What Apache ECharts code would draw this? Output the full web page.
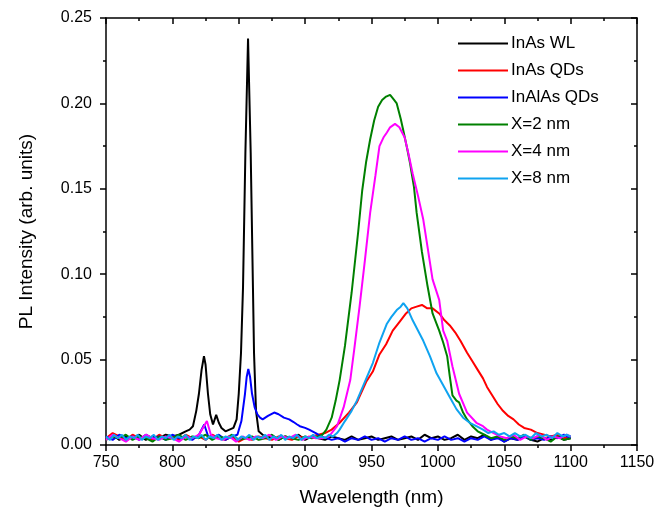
<!DOCTYPE html>
<html>
<head>
<meta charset="utf-8">
<script src="https://cdn.jsdelivr.net/npm/echarts@6/dist/echarts.min.js"></script>
<style>
html,body{margin:0;padding:0;background:#fff;}
#chart{width:670px;height:513px;}
</style>
</head>
<body>
<div id="chart"></div>
<script>
// Values: [wavelength (nm), PL intensity in units of 1e-3 arb. units]
const seriesNames = ['InAs WL','InAs QDs','InAlAs QDs','X=2 nm','X=4 nm','X=8 nm'];
const xTicks = [750,800,850,900,950,1000,1050,1100,1150];
const yTicks = [0.00,0.05,0.10,0.15,0.20,0.25];

const inAsWL = [[750,4],[755,6],[760,3],[765,5],[770,4],[775,6],[780,3],[785,5],[790,4],[795,6],[800,5],[805,6],[810,8],[813,9],[815.5,11],[818,20],[820,30],[822,44],[823.8,52],[825,47],[826.8,30],[828.5,18],[830.6,12],[833,17.6],[835,13],[837,10],[840,8],[843,9],[846,10],[848.4,15],[850,30],[851.7,54],[853.2,92],[855,171],[857,238],[859,171],[860.7,92],[861.5,54],[863,20],[865,8],[868,6],[872,4],[876,5],[880,3],[885,5],[890,4],[895,6],[900,3],[905,5],[910,4],[915,3],[920,5],[925,4],[930,3],[935,5],[940,3],[945,4],[950,5],[955,3],[960,4],[965,5],[970,3],[975,4],[980,5],[985,3],[990,6],[995,4],[1000,5],[1005,3],[1010,4],[1015,6],[1020,3],[1025,5],[1030,4],[1035,6],[1040,3],[1045,5],[1050,2],[1055,4],[1060,3],[1065,5],[1070,3],[1075,2],[1080,4],[1085,3],[1090,5],[1095,3],[1100,4]];

const inAsQDs = [[750,4],[755,7],[760,5],[765,3],[770,6],[775,4],[780,5],[785,3],[790,6],[795,4],[800,5],[805,3],[810,6],[815,4],[820,5],[825,3],[830,6],[835,4],[840,3],[845,5],[850,2],[855,4],[860,3],[865,5],[870,4],[875,3],[880,5],[885,4],[890,3],[895,5],[900,4],[905,5],[910,6],[915,7],[920,9],[926,13],[933,19],[939,25],[946,37],[951,43],[956,53],[961,59],[966,67],[971,72],[976,77],[980,80],[984,81],[988,82],[992,80],[996,80],[1001,77],[1005,73],[1009,70],[1013,66],[1017,61],[1022,54],[1026,49],[1030,44],[1034,39],[1037,34],[1041,29],[1045,24],[1049,20],[1053,17],[1057,15],[1061,12],[1065,10],[1070,9],[1075,7],[1080,6],[1085,5],[1090,6],[1095,4],[1100,5]];

const inAlAsQDs = [[750,5],[755,3],[760,6],[765,4],[770,5],[775,3],[780,6],[785,4],[790,5],[795,3],[800,6],[805,4],[810,5],[815,3],[820,6],[824,12],[827,5],[830,4],[835,6],[840,3],[845,5],[849,6],[852,14],[854.7,30],[856,40],[857.2,44.5],[858.5,40],[860,30],[862,22],[864,18],[866,16],[868,15],[872,17],[876.7,19],[880,18],[884,16],[888,15],[891,13.6],[894,12],[896,11],[900,10],[903,9],[908,7],[912,5],[916,4],[920,3],[925,4],[930,2],[935,4],[940,3],[945,5],[950,3],[955,4],[960,2],[965,4],[970,3],[975,5],[980,3],[985,4],[990,2],[995,4],[1000,3],[1005,5],[1010,3],[1015,4],[1020,2],[1025,4],[1030,3],[1035,5],[1040,3],[1045,4],[1050,2],[1055,4],[1060,3],[1065,5],[1070,3],[1075,4],[1080,3],[1085,5],[1090,4],[1095,6],[1100,4]];

const x2nm = [[750,3],[755,5],[760,4],[765,6],[770,3],[775,5],[780,4],[785,2],[790,5],[795,3],[800,4],[805,6],[810,3],[815,5],[820,4],[825,6],[830,3],[835,5],[840,4],[845,6],[850,3],[855,4],[860,5],[865,3],[870,4],[875,6],[880,3],[885,5],[890,4],[895,3],[900,5],[905,4],[910,5],[913,6],[916,9],[920,16],[923,26],[926,38],[930,58],[935,89],[940,125],[943,149],[946,166],[949,179],[952,190],[955,198],[958,202],[961,204],[964,205],[967,202],[969,200],[972,191],[974,184],[977,173],[979,165],[982,151],[984,136],[988,113],[992,94],[996,77],[1001,67],[1004,60],[1007,52],[1009,40],[1011,29],[1014,26],[1016,25],[1019,19],[1022,15],[1026,11],[1030,8],[1035,6],[1040,4],[1045,5],[1050,3],[1055,5],[1060,4],[1065,6],[1070,3],[1075,5],[1080,4],[1085,2],[1090,5],[1095,3],[1100,4]];

const x4nm = [[750,3],[755,6],[760,4],[765,2],[770,5],[775,3],[780,6],[785,4],[790,3],[795,5],[800,4],[805,2],[810,5],[815,4],[820,6],[823,10],[826,14],[829,6],[833,4],[838,3],[843,5],[848,2],[853,5],[858,3],[863,5],[868,4],[873,6],[878,3],[883,5],[888,4],[893,6],[898,3],[903,5],[908,4],[913,4],[918,5],[921,8],[924,11],[929,22],[934,38],[937,56],[941,81],[945,108],[949,136],[953,158],[956,175],[959,180],[961.6,183],[964,186],[967.7,188],[971,186],[975,180],[978,170],[981,159],[985,146],[989,132],[992,117],[996,97],[1001,85],[1004,67],[1007,61],[1011,46],[1016,30],[1022,19],[1029,13],[1034,11],[1037,9],[1042,7],[1047,5],[1052,4],[1057,6],[1062,3],[1067,5],[1072,4],[1077,6],[1082,3],[1087,5],[1092,4],[1097,6],[1100,5]];

const x8nm = [[750,5],[753,3],[756,6],[759,4],[762,6],[765,3],[768,5],[771,4],[774,6],[777,3],[780,5],[783,4],[786,6],[789,3],[792,5],[795,4],[798,6],[801,3],[804,5],[807,4],[810,6],[813,3],[816,5],[819,4],[822,6],[825,3],[828,5],[831,4],[834,6],[837,3],[840,5],[843,4],[846,6],[849,3],[852,5],[855,4],[858,6],[861,3],[864,5],[867,4],[870,6],[873,3],[876,5],[879,4],[882,6],[885,3],[888,5],[891,4],[894,6],[897,3],[900,5],[903,4],[906,6],[909,4],[912,5],[915,4],[918,6],[921,5],[924,7],[926,9],[930,14],[935,20],[939,26],[945,37],[951,48],[956,60],[961.6,71],[965,75],[969,79],[972,81],[974,83],[977,80],[981,73],[985,67],[989,61],[994,52],[999,42],[1004,35],[1009,28],[1014,21],[1019,16],[1024,13],[1029,11],[1034,9],[1038,7],[1042,8],[1046,6],[1050,7],[1054,5],[1058,7],[1062,5],[1066,6],[1070,4],[1074,7],[1078,5],[1082,6],[1086,4],[1090,7],[1094,5],[1097,6],[1100,5]];

const seriesData = [inAsWL, inAsQDs, inAlAsQDs, x2nm, x4nm, x8nm];
const seriesColors = ['#000000','#ff0000','#0000ff','#008000','#ff00ff','#0fa3f0'];

const FONT = 'Arial, "Liberation Sans", sans-serif';
const xMin = xTicks[0], xMax = xTicks[xTicks.length-1], xStep = xTicks[1]-xTicks[0];
const yMin = yTicks[0], yMax = yTicks[yTicks.length-1], yStep = yTicks[1]-yTicks[0];

const axisLine = {show:true, onZero:false, lineStyle:{color:'#000', width:1.5}};

const chart = echarts.init(document.getElementById('chart'), null, {renderer:'canvas'});
chart.setOption({
  animation:false,
  backgroundColor:'#fff',
  grid:{left:106, right:33, top:18, bottom:68, containLabel:false},
  legend:{
    orient:'vertical', left:453, top:30,
    itemWidth:50, itemHeight:14, itemGap:10,
    textStyle:{fontFamily:FONT, fontSize:17, color:'#000', padding:[0,0,0,-2]},
    data: seriesNames.map(n=>({name:n, icon:'path://M0,6 L50,6 L50,8 L0,8 Z'}))
  },
  xAxis:[{
    type:'value', min:xMin, max:xMax, interval:xStep,
    name:'Wavelength (nm)', nameLocation:'middle', nameGap:43,
    nameTextStyle:{fontFamily:FONT, fontSize:19, color:'#000'},
    axisLine:axisLine,
    axisTick:{show:true, inside:false, length:6, lineStyle:{color:'#000', width:1.5}},
    minorTick:{show:true, splitNumber:2, length:3, lineStyle:{color:'#000', width:1.5}},
    axisLabel:{fontFamily:FONT, fontSize:16, color:'#000', margin:10, formatter:v=>String(v)},
    splitLine:{show:false}
  },{
    type:'value', min:xMin, max:xMax, interval:xStep, position:'top',
    axisLine:axisLine,
    axisTick:{show:true, inside:true, length:6, lineStyle:{color:'#000', width:1.5}},
    minorTick:{show:true, splitNumber:2, length:3, lineStyle:{color:'#000', width:1.5}},
    axisLabel:{show:false}, splitLine:{show:false}
  }],
  yAxis:[{
    type:'value', min:yMin, max:yMax, interval:yStep,
    name:'PL Intensity (arb. units)', nameLocation:'middle', nameGap:70,
    nameTextStyle:{fontFamily:FONT, fontSize:19, color:'#000'},
    axisLine:axisLine,
    axisTick:{show:true, inside:false, length:6, lineStyle:{color:'#000', width:1.5}},
    minorTick:{show:true, splitNumber:2, length:3, lineStyle:{color:'#000', width:1.5}},
    axisLabel:{fontFamily:FONT, fontSize:16, color:'#000', margin:14, formatter:v=>v.toFixed(2)},
    splitLine:{show:false}
  },{
    type:'value', min:yMin, max:yMax, interval:yStep, position:'right',
    axisLine:axisLine,
    axisTick:{show:true, inside:true, length:6, lineStyle:{color:'#000', width:1.5}},
    minorTick:{show:true, splitNumber:2, length:3, lineStyle:{color:'#000', width:1.5}},
    axisLabel:{show:false}, splitLine:{show:false}
  }],
  series: seriesNames.map((name,i)=>({
    name:name, type:'line', xAxisIndex:0, yAxisIndex:0,
    data: seriesData[i].map(p=>[p[0], p[1]/1000]),
    showSymbol:false, symbol:'none',
    lineStyle:{color:seriesColors[i], width:2},
    itemStyle:{color:seriesColors[i]}
  }))
});
</script>
</body>
</html>
